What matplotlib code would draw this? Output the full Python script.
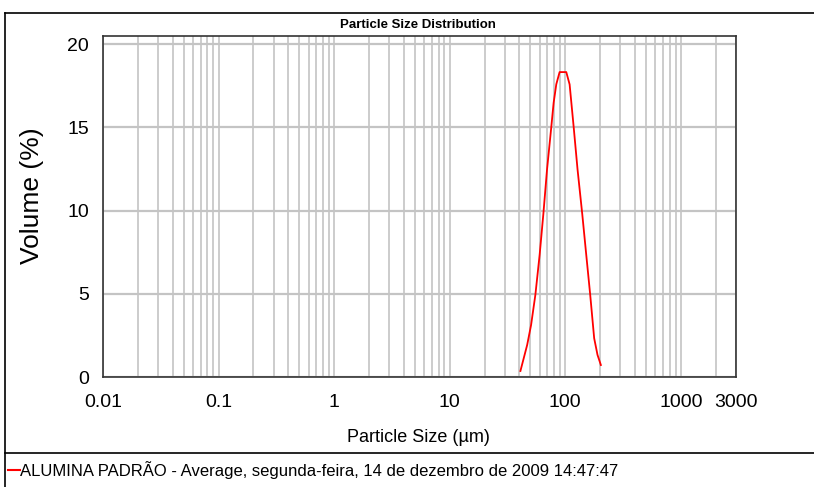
import matplotlib
matplotlib.use("Agg")
import matplotlib.pyplot as plt
from matplotlib.lines import Line2D
from matplotlib.ticker import FixedLocator, NullFormatter

# ---- data (particle size in um, volume in %) ----
size_um = [40.9, 43.7, 46.8, 50.6, 55.1, 60.0, 64.6, 69.5, 75.3, 79.3, 83.6,
           89.3, 102.0, 109.0, 118.0, 127.7, 140.2, 151.8, 164.3, 177.8, 190.0, 203.2]
volume_pct = [0.36, 1.13, 1.93, 3.13, 4.94, 7.35, 9.8, 12.47, 14.88, 16.49, 17.6,
              18.33, 18.33, 17.59, 15.08, 12.47, 9.8, 7.35, 4.94, 2.33, 1.33, 0.72]

xtick_vals = [0.01, 0.1, 1, 10, 100, 1000, 3000]
xtick_labels = ["0.01", "0.1", "1", "10", "100", "1000", "3000"]
ytick_vals = [0, 5, 10, 15, 20]

title = "Particle Size Distribution"
xlabel = "Particle Size (\u00b5m)"
ylabel = "Volume (%)"
legend_text = "ALUMINA PADR\u00c3O - Average, segunda-feira, 14 de dezembro de 2009 14:47:47"

plt.rcParams["font.family"] = ["Liberation Sans", "DejaVu Sans"]

fig = plt.figure(figsize=(8.14, 4.87), dpi=100)
ax = fig.add_axes([103 / 814, 1 - 377 / 487, 633 / 814, 341 / 487])

ax.set_xscale("log")
ax.set_xlim(0.01, 3000)
ax.set_ylim(0, 20.5)

# minor gridlines at 2..9 of each decade
minor = [m * 10.0 ** e for e in range(-2, 4) for m in range(2, 10) if m * 10.0 ** e < 3000]
ax.xaxis.set_major_locator(FixedLocator(xtick_vals))
ax.set_xticklabels(xtick_labels)
ax.xaxis.set_minor_locator(FixedLocator(minor))
ax.xaxis.set_minor_formatter(NullFormatter())
ax.set_yticks(ytick_vals)

ax.grid(True, which="both", axis="x", color="#cccccc", lw=1.4)
ax.grid(True, which="major", axis="y", color="#c4c4c4", lw=1.6)
ax.set_axisbelow(True)
ax.tick_params(which="both", length=0, labelsize=14, pad=12)
ax.tick_params(axis="y", pad=10)

for s in ax.spines.values():
    s.set_color("#333333")
    s.set_linewidth(1.2)

ax.plot(size_um, volume_pct, color="#ff0000", lw=1.3)

fig.text(418 / 814, 1 - 25 / 487, title, ha="center", va="center",
         fontsize=9.5, fontweight="bold")
fig.text(418 / 814, 1 - 437 / 487, xlabel, ha="center", va="center", fontsize=13)
fig.text(32 / 814, 1 - 196 / 487, ylabel, ha="center", va="center", rotation=90,
         fontsize=19)

# outer frame and legend separator
fig.add_artist(Line2D([5 / 814, 5 / 814], [0, 1 - 13 / 487], color="black", lw=1.2,
                      transform=fig.transFigure))
fig.add_artist(Line2D([5 / 814, 1], [1 - 13 / 487, 1 - 13 / 487], color="black", lw=1.2,
                      transform=fig.transFigure))
fig.add_artist(Line2D([5 / 814, 1], [1 - 453 / 487, 1 - 453 / 487], color="black", lw=1.2,
                      transform=fig.transFigure))

# legend entry
fig.add_artist(Line2D([8 / 814, 20 / 814], [1 - 470 / 487, 1 - 470 / 487], color="#ff0000",
                      lw=1.5, transform=fig.transFigure))
fig.text(20 / 814, 1 - 470 / 487, legend_text, ha="left", va="center", fontsize=12)

fig.savefig("out.png", dpi=100, facecolor="white")
